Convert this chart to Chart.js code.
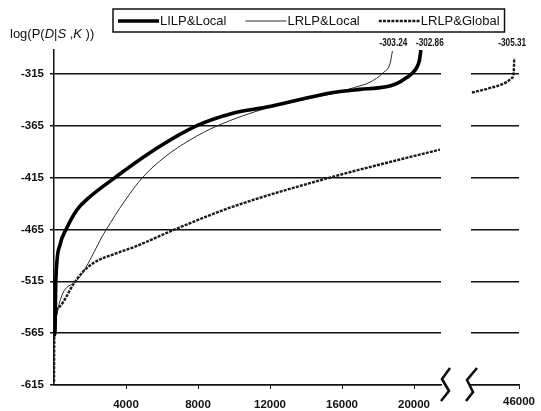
<!DOCTYPE html>
<html>
<head>
<meta charset="utf-8">
<script src="https://cdn.jsdelivr.net/npm/chart.js@4.4.1/dist/chart.umd.min.js"></script>
<style>
  html, body { margin: 0; padding: 0; background: #fff; overflow: hidden; }
  #wrap { position: relative; width: 541px; height: 411px; }
  #wrap canvas { position: absolute; left: 0; top: 0; }
</style>
</head>
<body>
<div id="wrap">
  <canvas id="mainChart" width="541" height="411"></canvas>
  <canvas id="tailChart" width="541" height="411"></canvas>
</div>
<script>
// ---- data ----
const seriesNames = ['LILP&Local', 'LRLP&Local', 'LRLP&Global'];

const lilpX = [0, 50, 100, 330, 670, 1280, 1830, 3390, 5330, 7940, 9940, 11830, 15500, 17000, 18000, 18700, 19200, 19600, 19900, 20150, 20300, 20380];
const lilpY = [-567, -565, -515, -480, -465, -446, -436, -415, -391, -365, -353, -347, -333, -330, -328.5, -326.5, -323, -318.5, -314.5, -309, -302, -292];

const lrlpX = [0, 20, 1110, 2890, 3890, 4945, 6170, 7560, 9060, 11830, 15500, 16720, 17560, 18280, 18670, 18800];
const lrlpY = [-575, -562, -516.6, -465.5, -438.5, -414.4, -395, -378.7, -365.2, -348, -334, -328, -323, -314, -305, -293];

const globalX = [0, 20, 280, 1110, 1600, 2220, 3300, 4440, 6720, 9780, 15330, 21440];
const globalY = [-612, -565, -540, -517, -506, -497, -489, -482, -465, -444, -415, -388];

// right-hand piece after the axis break
const globalTailX = [43060, 44110, 45220, 45550, 45670, 45700];
const globalTailY = [-333, -329, -323, -319, -314, -300];

const peakLabels = ['-302.86', '-303.24', '-305.31'];

const yTicks = [-615, -565, -515, -465, -415, -365, -315];
const xTicks = [4000, 8000, 12000, 16000, 20000];
const tailTicks = [46000];

// ---- look ----
const FONT = "'Liberation Sans', Arial, sans-serif";
const INK = '#111';
const lineStyles = [
  { borderWidth: 3.6, borderDash: [], borderColor: '#000' },
  { borderWidth: 1, borderDash: [], borderColor: '#2a2a2a' },
  { borderWidth: 2.4, borderDash: [3, 1.2], borderColor: '#1a1a1a' }
];

function pts(xs, ys) {
  return xs.map((x, i) => ({ x: x, y: ys[i] }));
}

function makeSet(i, xs, ys) {
  return Object.assign({
    label: seriesNames[i],
    data: pts(xs, ys),
    pointRadius: 0,
    fill: false,
    cubicInterpolationMode: 'monotone'
  }, lineStyles[i]);
}

// small condensed labels above the end of a curve
const peakTags = {
  id: 'peakTags',
  afterDatasetsDraw(chart, args, opts) {
    const ctx = chart.ctx;
    opts.tags.forEach(t => {
      const pts = chart.getDatasetMeta(t.dataset).data;
      const last = pts[pts.length - 1];
      ctx.save();
      ctx.fillStyle = INK;
      ctx.font = 'bold 10.5px ' + FONT;
      ctx.textAlign = 'center';
      ctx.textBaseline = 'middle';
      ctx.translate(last.x + t.dx, 43);
      ctx.scale(0.78, 1);
      ctx.fillText(t.text, 0, 0);
      ctx.restore();
    });
  }
};

// legend box, y title and axis break marks
const decorations = {
  id: 'decorations',
  afterDraw(chart) {
    const ctx = chart.ctx;
    const area = chart.chartArea;
    ctx.save();

    // legend
    ctx.font = '13px ' + FONT;
    ctx.textBaseline = 'middle';
    const boxL = 113, boxT = 9, boxH = 23;
    let x = boxL + 5;
    const cy = boxT + boxH / 2 + 0.5;
    seriesNames.forEach((name, i) => {
      const st = lineStyles[i];
      ctx.strokeStyle = st.borderColor;
      ctx.lineWidth = st.borderWidth;
      ctx.setLineDash(st.borderDash);
      ctx.beginPath();
      ctx.moveTo(x, cy);
      ctx.lineTo(x + 41, cy);
      ctx.stroke();
      ctx.setLineDash([]);
      x += 42;
      ctx.fillStyle = INK;
      ctx.fillText(name, x, cy);
      x += ctx.measureText(name).width + (i < seriesNames.length - 1 ? 19 : 5);
    });
    ctx.strokeStyle = INK;
    ctx.lineWidth = 1.5;
    ctx.strokeRect(boxL, boxT, x - boxL, boxH);

    // y axis title with italic variables
    const parts = [['log(P(', false], ['D', true], ['|', false], ['S', true], [' ,', false], ['K', true], [' ))', false]];
    let tx = 10;
    ctx.textBaseline = 'middle';
    parts.forEach(p => {
      ctx.font = (p[1] ? 'italic ' : '') + '13px ' + FONT;
      ctx.fillText(p[0], tx, 34);
      tx += ctx.measureText(p[0]).width;
    });

    // axis break zigzags
    const bx = area.right, by = area.bottom;
    ctx.lineWidth = 2.6;
    ctx.lineJoin = 'miter';
    [[0, 16, 8, 6, 1, -6, 9, -17], [25, 16, 32, 7, 26, -5, 36, -17]].forEach(z => {
      ctx.beginPath();
      ctx.moveTo(bx + z[0], by + z[1]);
      ctx.lineTo(bx + z[2], by + z[3]);
      ctx.lineTo(bx + z[4], by + z[5]);
      ctx.lineTo(bx + z[6], by + z[7]);
      ctx.stroke();
    });
    ctx.restore();
  }
};

const tickFont = { family: FONT, size: 11.5, weight: 'bold' };

new Chart(document.getElementById('mainChart'), {
  type: 'line',
  data: {
    datasets: [
      makeSet(0, lilpX, lilpY),
      makeSet(1, lrlpX, lrlpY),
      makeSet(2, globalX, globalY)
    ]
  },
  options: {
    responsive: false,
    animation: false,
    layout: { padding: { top: 50, right: 100, left: 0, bottom: 0 } },
    plugins: {
      legend: { display: false },
      tooltip: { enabled: false },
      peakTags: { tags: [{ dataset: 0, text: peakLabels[0], dx: 9 }, { dataset: 1, text: peakLabels[1], dx: 1 }] }
    },
    scales: {
      x: {
        type: 'linear',
        min: 0,
        max: 21500,
        afterBuildTicks: s => { s.ticks = xTicks.map(v => ({ value: v })); },
        afterFit: s => { s.height = 26; },
        grid: { drawOnChartArea: false, drawTicks: true, tickLength: 4, color: INK, lineWidth: 1 },
        border: { color: INK, width: 1.5 },
        ticks: { color: INK, font: tickFont, padding: 9, maxRotation: 0, callback: v => String(v) }
      },
      y: {
        type: 'linear',
        min: -615,
        max: -292,
        afterBuildTicks: s => { s.ticks = yTicks.map(v => ({ value: v })); },
        afterFit: s => { s.width = 54; },
        grid: { color: INK, lineWidth: 1.5, drawTicks: true, tickLength: 4 },
        border: { color: INK, width: 1.5 },
        ticks: { color: INK, font: tickFont, padding: 6, callback: v => String(v) }
      }
    }
  },
  plugins: [peakTags, decorations]
});

new Chart(document.getElementById('tailChart'), {
  type: 'line',
  data: {
    datasets: [makeSet(2, globalTailX, globalTailY)]
  },
  options: {
    responsive: false,
    animation: false,
    layout: { padding: { top: 50, right: 17, left: 0, bottom: 0 } },
    plugins: {
      legend: { display: false },
      tooltip: { enabled: false },
      peakTags: { tags: [{ dataset: 0, text: peakLabels[2], dx: -2 }] }
    },
    scales: {
      x: {
        type: 'linear',
        min: 43000,
        max: 46000,
        afterBuildTicks: s => { s.ticks = tailTicks.map(v => ({ value: v })); },
        afterFit: s => { s.height = 26; },
        grid: { drawOnChartArea: false, drawTicks: true, tickLength: 4, color: INK, lineWidth: 1 },
        border: { color: INK, width: 1.5 },
        ticks: { color: INK, font: tickFont, padding: 6, maxRotation: 0, callback: v => String(v) }
      },
      y: {
        type: 'linear',
        min: -615,
        max: -292,
        afterBuildTicks: s => { s.ticks = yTicks.map(v => ({ value: v })); },
        afterFit: s => { s.width = 471; },
        grid: { color: INK, lineWidth: 1.5, drawTicks: false },
        border: { display: false },
        ticks: { display: false }
      }
    }
  },
  plugins: [peakTags]
});
</script>
</body>
</html>
